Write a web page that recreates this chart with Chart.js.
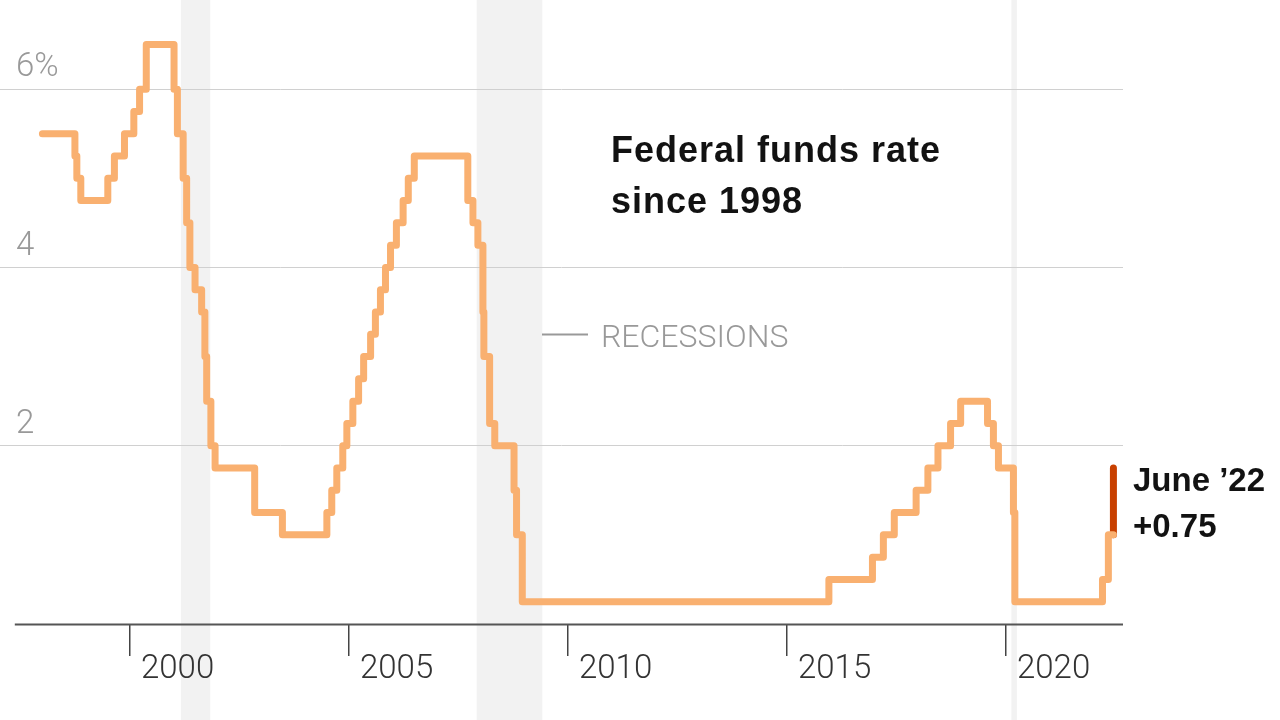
<!DOCTYPE html>
<html><head><meta charset="utf-8">
<script src="https://cdn.jsdelivr.net/npm/chart.js@4.4.1/dist/chart.umd.min.js"></script>
<style>html,body{margin:0;padding:0;background:#fff;}canvas{display:block}</style>
</head><body>
<canvas id="c" width="1280" height="720"></canvas>
<script>
// Federal funds target rate (upper bound) changes
const changeDates = ['1998-01-01','1998-09-29','1998-10-15','1998-11-17','1999-06-30','1999-08-24','1999-11-16',
  '2000-02-02','2000-03-21','2000-05-16','2001-01-03','2001-01-31','2001-03-20','2001-04-18','2001-05-15',
  '2001-06-27','2001-08-21','2001-09-17','2001-10-02','2001-11-06','2001-12-11','2002-11-06','2003-06-25',
  '2004-06-30','2004-08-10','2004-09-21','2004-11-10','2004-12-14','2005-02-02','2005-03-22','2005-05-03',
  '2005-06-30','2005-08-09','2005-09-20','2005-11-01','2005-12-13','2006-01-31','2006-03-28','2006-05-10',
  '2006-06-29','2007-09-18','2007-10-31','2007-12-11','2008-01-22','2008-01-30','2008-03-18','2008-04-30',
  '2008-10-08','2008-10-29','2008-12-16','2015-12-16','2016-12-14','2017-03-15','2017-06-14','2017-12-13',
  '2018-03-21','2018-06-13','2018-09-26','2018-12-19','2019-07-31','2019-09-18','2019-10-30','2020-03-03',
  '2020-03-15','2022-03-16','2022-05-04','2022-06-15'];
const targetRates = [5.5,5.25,5.0,4.75,5.0,5.25,5.5,
  5.75,6.0,6.5,6.0,5.5,5.0,4.5,4.0,
  3.75,3.5,3.0,2.5,2.0,1.75,1.25,1.0,
  1.25,1.5,1.75,2.0,2.25,2.5,2.75,3.0,
  3.25,3.5,3.75,4.0,4.25,4.5,4.75,5.0,
  5.25,4.75,4.5,4.25,3.5,3.0,2.25,2.0,
  1.5,1.0,0.25,0.5,0.75,1.0,1.25,1.5,
  1.75,2.0,2.25,2.5,2.25,2.0,1.75,1.25,
  0.25,0.5,1.0,1.75];
const recessionStarts = ['2001-03-01','2007-12-01','2020-02-15'];
const recessionEnds   = ['2001-11-01','2009-06-01','2020-04-01'];
const xTickYears  = [2000, 2005, 2010, 2015, 2020];
const xTickLabels = ['2000','2005','2010','2015','2020'];
const yTickValues = [2, 4, 6];
const yTickLabels = ['2', '4', '6%'];

function toYear(s){
  const [y,m,d] = s.split('-').map(Number);
  const a = Date.UTC(y,0,1), b = Date.UTC(y+1,0,1);
  return y + (Date.UTC(y,m-1,d) - a) / (b - a);
}
const n = changeDates.length;
// history line: all moves before the latest, held until the latest move date
const histPts = changeDates.slice(0, n-1).map((d,i) => ({x: toYear(d), y: targetRates[i]}));
histPts.push({x: toYear(changeDates[n-1]), y: targetRates[n-2]});
// latest move highlighted
const lastPts = [{x: toYear(changeDates[n-1]), y: targetRates[n-2]}, {x: toYear(changeDates[n-1]), y: targetRates[n-1]}];

const recessionPlugin = {
  id: 'recessions',
  beforeDraw(chart){
    const {ctx, scales:{x}} = chart;
    ctx.save();
    ctx.fillStyle = '#f2f2f2';
    recessionStarts.forEach((s,i) => {
      const x0 = x.getPixelForValue(toYear(s)), x1 = x.getPixelForValue(toYear(recessionEnds[i]));
      ctx.fillRect(x0, 0, x1 - x0, chart.height);
    });
    ctx.restore();
  }
};
const annoPlugin = {
  id: 'anno',
  afterDraw(chart){
    const {ctx, chartArea, scales:{x}} = chart;
    ctx.save();
    // x axis line
    ctx.strokeStyle = '#555'; ctx.lineWidth = 2;
    ctx.beginPath();
    ctx.moveTo(x.getPixelForValue(1997.37), chartArea.bottom + 0.5);
    ctx.lineTo(chartArea.right, chartArea.bottom + 0.5);
    ctx.stroke();
    // title
    ctx.fillStyle = '#121212';
    ctx.font = 'bold 36px "Liberation Sans", Arial, sans-serif';
    ctx.letterSpacing = '1px';
    ctx.textBaseline = 'alphabetic'; ctx.textAlign = 'left';
    ctx.fillText('Federal funds rate', 611, 162);
    ctx.fillText('since 1998', 611, 213);
    // annotation
    ctx.letterSpacing = '0px';
    ctx.font = 'bold 33px "Liberation Sans", Arial, sans-serif';
    ctx.fillText('June \u201922', 1133, 491);
    ctx.fillText('+0.75', 1133, 537);
    // recessions legend
    ctx.strokeStyle = '#999'; ctx.lineWidth = 2;
    ctx.beginPath(); ctx.moveTo(542, 334.5); ctx.lineTo(588, 334.5); ctx.stroke();
    ctx.fillStyle = '#999';
    ctx.font = '300 32px Roboto, sans-serif';
    ctx.fillText('RECESSIONS', 601, 347);
    ctx.restore();
  }
};

new Chart(document.getElementById('c'), {
  type: 'line',
  data: { datasets: [
    { data: histPts, borderColor: '#f9b070', borderWidth: 7, stepped: 'before', pointRadius: 0,
      borderCapStyle: 'round', borderJoinStyle: 'round', fill: false },
    { data: lastPts, borderColor: '#c84000', borderWidth: 7, pointRadius: 0,
      borderCapStyle: 'round', fill: false }
  ]},
  options: {
    responsive: false, animation: false, devicePixelRatio: 1,
    layout: { padding: { left: 0, right: 157, top: 0, bottom: 0 } },
    plugins: { legend: { display: false }, tooltip: { enabled: false } },
    scales: {
      x: {
        type: 'linear', position: 'bottom', min: 1997.032, max: 2022.671,
        afterBuildTicks: s => { s.ticks = xTickYears.map(v => ({value: v})); },
        afterFit: s => { s.height = 96; s.paddingLeft = 0; s.paddingRight = 0; },
        grid: { drawOnChartArea: false, drawTicks: true, tickLength: 32, color: '#444', lineWidth: 1.5 },
        border: { display: false },
        ticks: { autoSkip: false, maxRotation: 0, align: 'start', labelOffset: 11, padding: -6,
          color: '#333', font: { family: 'Roboto', size: 33, weight: '300' },
          callback: v => xTickLabels[xTickYears.indexOf(v)] }
      },
      y: {
        position: 'left', min: 0, max: 7,
        afterBuildTicks: s => { s.ticks = yTickValues.map(v => ({value: v})); },
        afterFit: s => { s.width = 0; s.paddingTop = 0; s.paddingBottom = 0; },
        grid: { drawTicks: false, color: '#d0d0d0', lineWidth: 1 },
        border: { display: false },
        ticks: { mirror: true, padding: 16, labelOffset: -21, color: '#999',
          font: { family: 'Roboto', size: 33, weight: '300' },
          callback: v => yTickLabels[yTickValues.indexOf(v)] }
      }
    }
  },
  plugins: [recessionPlugin, annoPlugin]
});
</script>
</body></html>
